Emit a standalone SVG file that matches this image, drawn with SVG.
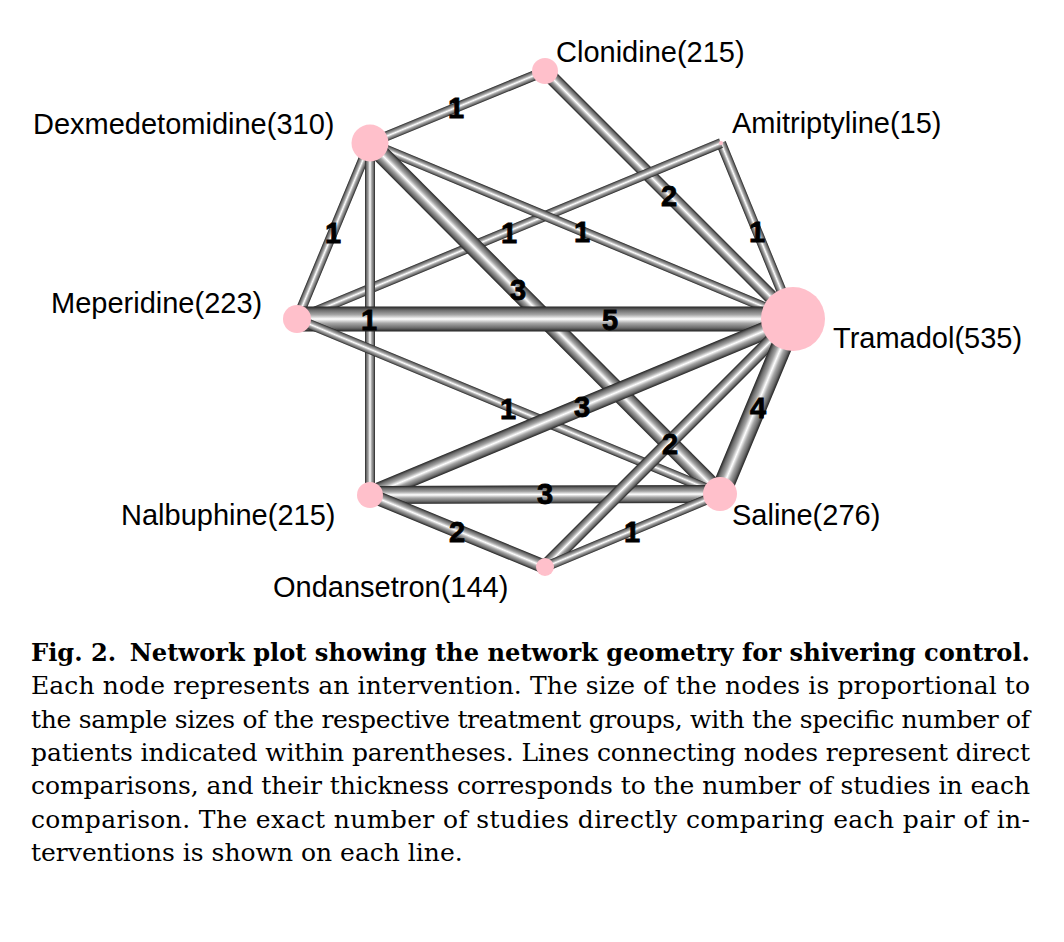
<svg xmlns="http://www.w3.org/2000/svg" width="1064" height="942" viewBox="0 0 1064 942">
<defs>
<linearGradient id="tube" x1="0" y1="0" x2="0" y2="1">
<stop offset="0" stop-color="#222222"/>
<stop offset="0.14" stop-color="#6a6a6a"/>
<stop offset="0.33" stop-color="#a6a6a6"/>
<stop offset="0.5" stop-color="#ffffff"/>
<stop offset="0.67" stop-color="#a6a6a6"/>
<stop offset="0.86" stop-color="#6a6a6a"/>
<stop offset="1" stop-color="#222222"/>
</linearGradient>
</defs>
<style>
.e{fill:url(#tube)}
.n{fill:#FFC0CB}
.lab{font-family:"Liberation Sans",Arial,sans-serif;font-size:29px;fill:#000}
.num{font-family:"Liberation Sans",Arial,sans-serif;font-size:29px;font-weight:bold;fill:#000;stroke:#000;stroke-width:0.8;text-anchor:middle}
.cap{font-family:"DejaVu Serif","Liberation Serif",serif;font-size:25px;fill:#000}
.capb{font-family:"DejaVu Serif","Liberation Serif",serif;font-size:25px;font-weight:bold;fill:#000}
</style>
<rect width="1064" height="942" fill="#fff"/>
<g id="connectors">
<rect class="e" x="0" y="-5" width="189.23" height="10" transform="translate(370 143) rotate(-22.36)"/>
<rect class="e" x="0" y="-7" width="350.72" height="14" transform="translate(545 71) rotate(45)"/>
<rect class="e" x="0" y="-5" width="190.16" height="10" transform="translate(721 143) rotate(67.75)"/>
<rect class="e" x="0" y="-5" width="459.08" height="10" transform="translate(297 319) rotate(-22.54)"/>
<rect class="e" x="0" y="-5" width="458.15" height="10" transform="translate(370 143) rotate(22.59)"/>
<rect class="e" x="0" y="-5" width="190.54" height="10" transform="translate(297 319) rotate(-67.47)"/>
<rect class="e" x="0" y="-9" width="495.68" height="18" transform="translate(370 143) rotate(45.08)"/>
<rect class="e" x="0" y="-5" width="352" height="10" transform="translate(370 143) rotate(90)"/>
<rect class="e" x="0" y="-12.5" width="496" height="25" transform="translate(297 319)"/>
<rect class="e" x="0" y="-5" width="457.77" height="10" transform="translate(297 319) rotate(22.48)"/>
<rect class="e" x="0" y="-9" width="458.15" height="18" transform="translate(370 495) rotate(-22.59)"/>
<rect class="e" x="0" y="-9" width="350" height="18" transform="translate(370 495) rotate(-0.16)"/>
<rect class="e" x="0" y="-7" width="189.23" height="14" transform="translate(370 495) rotate(22.36)"/>
<rect class="e" x="0" y="-7" width="350.72" height="14" transform="translate(545 567) rotate(-45)"/>
<rect class="e" x="0" y="-5" width="189.62" height="10" transform="translate(545 567) rotate(-22.64)"/>
<rect class="e" x="0" y="-10.5" width="189.62" height="21" transform="translate(720 494) rotate(-67.36)"/>
</g>
<g id="edge-labels">
<text class="num" x="456" y="118">1</text>
<text class="num" x="669" y="206">2</text>
<text class="num" x="757" y="242">1</text>
<text class="num" x="582" y="242">1</text>
<text class="num" x="509" y="243">1</text>
<text class="num" x="333" y="243">1</text>
<text class="num" x="518" y="300">3</text>
<text class="num" x="369" y="330">1</text>
<text class="num" x="610" y="330">5</text>
<text class="num" x="508" y="419">1</text>
<text class="num" x="582" y="417">3</text>
<text class="num" x="670" y="454">2</text>
<text class="num" x="758" y="418">4</text>
<text class="num" x="545" y="504">3</text>
<text class="num" x="457" y="542">2</text>
<text class="num" x="632" y="542">1</text>
</g>
<g id="clonidine"><circle class="n" cx="545" cy="71" r="13"/><text class="lab" x="556" y="62">Clonidine(215)</text></g>
<g id="amitriptyline"><circle class="n" cx="721" cy="143" r="2"/><text class="lab" x="732" y="133">Amitriptyline(15)</text></g>
<g id="dexmedetomidine"><circle class="n" cx="370" cy="143" r="18.5"/><text class="lab" x="33" y="134">Dexmedetomidine(310)</text></g>
<g id="meperidine"><circle class="n" cx="297" cy="319" r="14"/><text class="lab" x="51" y="313">Meperidine(223)</text></g>
<g id="tramadol"><circle class="n" cx="793" cy="319" r="32"/><text class="lab" x="833" y="348">Tramadol(535)</text></g>
<g id="nalbuphine"><circle class="n" cx="370" cy="495" r="13"/><text class="lab" x="121" y="525">Nalbuphine(215)</text></g>
<g id="saline"><circle class="n" cx="720" cy="494" r="17"/><text class="lab" x="732" y="525">Saline(276)</text></g>
<g id="ondansetron"><circle class="n" cx="545" cy="567" r="9"/><text class="lab" x="273" y="597">Ondansetron(144)</text></g>
<g id="caption">
<text class="capb" x="31" y="661" textLength="999" lengthAdjust="spacingAndGlyphs">Fig. 2.<tspan dx="14">Network plot showing the network geometry for shivering control.</tspan></text>
<text class="cap" x="31" y="694" textLength="999" lengthAdjust="spacing">Each node represents an intervention. The size of the nodes is proportional to</text>
<text class="cap" x="31" y="728" textLength="999" lengthAdjust="spacing">the sample sizes of the respective treatment groups, with the specific number of</text>
<text class="cap" x="31" y="761" textLength="999" lengthAdjust="spacing">patients indicated within parentheses. Lines connecting nodes represent direct</text>
<text class="cap" x="31" y="794" textLength="999" lengthAdjust="spacing">comparisons, and their thickness corresponds to the number of studies in each</text>
<text class="cap" x="31" y="828" textLength="999" lengthAdjust="spacing">comparison. The exact number of studies directly comparing each pair of in-</text>
<text class="cap" x="31" y="861">terventions is shown on each line.</text>
</g>
</svg>
